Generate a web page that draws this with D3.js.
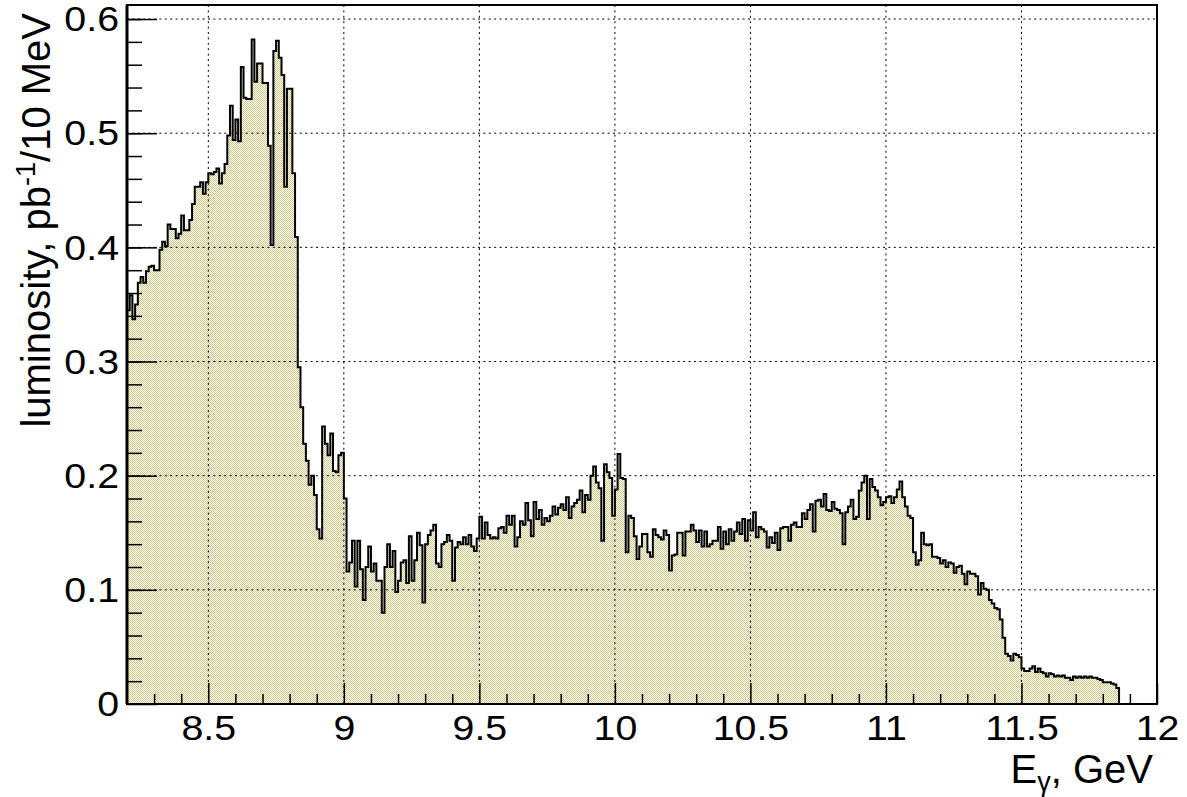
<!DOCTYPE html>
<html>
<head>
<meta charset="utf-8">
<script src="https://cdn.jsdelivr.net/npm/d3@7"></script>
<style>
  body { margin: 0; background: #fff; }
  svg text { font-family: "Liberation Sans", Arial, Helvetica, sans-serif; fill: #000; }
</style>
</head>
<body>
<div id="chart"></div>
<script>
// histogram binning (GeV)
const binStart = 8.2;
const binWidth = 0.01;

// luminosity per 10 MeV bin, pb^-1
const lumi8to9 = [
  0.345, 0.358, 0.337, 0.350, 0.369, 0.374, 0.369, 0.379, 0.383, 0.384,
  0.380, 0.380, 0.398, 0.405, 0.401, 0.420, 0.416, 0.416, 0.408, 0.412,
  0.428, 0.415, 0.415, 0.424, 0.438, 0.453, 0.453, 0.457, 0.447, 0.457,
  0.465, 0.464, 0.466, 0.469, 0.456, 0.465, 0.473, 0.498, 0.524, 0.494,
  0.512, 0.493, 0.558, 0.531, 0.530, 0.530, 0.582, 0.545, 0.561, 0.561,
  0.544, 0.544, 0.489, 0.402, 0.572, 0.581, 0.566, 0.551, 0.453, 0.539,
  0.539, 0.465, 0.409, 0.295, 0.260, 0.228, 0.213, 0.192, 0.200, 0.183,
  0.153, 0.145, 0.243, 0.228, 0.218, 0.237, 0.204, 0.203, 0.218, 0.220
];
const lumi9to10 = [
  0.180, 0.116, 0.124, 0.143, 0.103, 0.143, 0.118, 0.091, 0.120, 0.138,
  0.116, 0.123, 0.108, 0.108, 0.080, 0.120, 0.140, 0.120, 0.134, 0.098,
  0.108, 0.124, 0.126, 0.106, 0.147, 0.108, 0.126, 0.150, 0.139, 0.089,
  0.140, 0.148, 0.152, 0.157, 0.123, 0.120, 0.140, 0.142, 0.148, 0.143,
  0.108, 0.137, 0.142, 0.140, 0.146, 0.140, 0.148, 0.138, 0.134, 0.145,
  0.164, 0.145, 0.159, 0.148, 0.145, 0.146, 0.145, 0.154, 0.155, 0.150,
  0.165, 0.157, 0.165, 0.138, 0.146, 0.160, 0.157, 0.176, 0.161, 0.147,
  0.177, 0.162, 0.170, 0.157, 0.163, 0.160, 0.165, 0.173, 0.166, 0.172,
  0.175, 0.170, 0.181, 0.163, 0.173, 0.176, 0.179, 0.187, 0.168, 0.183,
  0.179, 0.200, 0.208, 0.194, 0.189, 0.143, 0.210, 0.203, 0.198, 0.165
];
const lumi10to11 = [
  0.188, 0.219, 0.198, 0.197, 0.133, 0.165, 0.163, 0.147, 0.127, 0.138,
  0.149, 0.149, 0.133, 0.129, 0.153, 0.148, 0.146, 0.144, 0.152, 0.148,
  0.117, 0.130, 0.131, 0.150, 0.150, 0.130, 0.151, 0.151, 0.157, 0.152,
  0.142, 0.152, 0.138, 0.151, 0.138, 0.140, 0.143, 0.143, 0.155, 0.136,
  0.151, 0.140, 0.153, 0.143, 0.151, 0.159, 0.149, 0.162, 0.143, 0.161,
  0.152, 0.168, 0.146, 0.155, 0.153, 0.151, 0.137, 0.146, 0.141, 0.150,
  0.135, 0.154, 0.155, 0.155, 0.143, 0.157, 0.159, 0.155, 0.155, 0.167,
  0.162, 0.170, 0.175, 0.151, 0.178, 0.179, 0.173, 0.184, 0.170, 0.169,
  0.177, 0.171, 0.170, 0.167, 0.140, 0.168, 0.173, 0.179, 0.162, 0.164,
  0.187, 0.194, 0.200, 0.162, 0.197, 0.190, 0.187, 0.181, 0.174, 0.177
];
const lumi11to12 = [
  0.181, 0.182, 0.176, 0.181, 0.188, 0.195, 0.181, 0.173, 0.165, 0.163,
  0.133, 0.122, 0.126, 0.150, 0.140, 0.139, 0.140, 0.129, 0.129, 0.128,
  0.123, 0.126, 0.120, 0.124, 0.123, 0.115, 0.120, 0.121, 0.114, 0.105,
  0.116, 0.114, 0.114, 0.112, 0.096, 0.106, 0.101, 0.100, 0.091, 0.088,
  0.084, 0.083, 0.074, 0.058, 0.044, 0.042, 0.038, 0.044, 0.043, 0.041,
  0.031, 0.029, 0.029, 0.031, 0.033, 0.028, 0.031, 0.028, 0.027, 0.024,
  0.027, 0.026, 0.024, 0.025, 0.024, 0.025, 0.023, 0.023, 0.021, 0.024,
  0.023, 0.024, 0.023, 0.024, 0.023, 0.024, 0.023, 0.023, 0.022, 0.021,
  0.019, 0.019, 0.019, 0.018, 0.017, 0.014
];

const xTicks = [8.5, 9, 9.5, 10, 10.5, 11, 11.5, 12];
const xTickLabels = ["8.5", "9", "9.5", "10", "10.5", "11", "11.5", "12"];
const yTicks = [0, 0.1, 0.2, 0.3, 0.4, 0.5, 0.6];
const yTickLabels = ["0", "0.1", "0.2", "0.3", "0.4", "0.5", "0.6"];

const lumi = [].concat(lumi8to9, lumi9to10, lumi10to11, lumi11to12);

const margin = { top: 5, right: 30, bottom: 93, left: 127 };
const width = 1187 - margin.left - margin.right;
const height = 797 - margin.top - margin.bottom;
const labelStretch = 1.14; // ROOT's Helvetica digits run wider than Arial

const svg = d3.select("#chart").append("svg")
    .attr("width", 1187)
    .attr("height", 797)
    .append("g")
    .attr("transform", `translate(${margin.left}, ${margin.top})`);

const x = d3.scaleLinear().domain([8.2, 12]).range([0, width]);
const y = d3.scaleLinear().domain([0, 0.6123]).range([height, 0]);

// ROOT-like dotted fill pattern
const defs = svg.append("defs");
const pat = defs.append("pattern")
    .attr("id", "dots")
    .attr("patternUnits", "userSpaceOnUse")
    .attr("width", 2).attr("height", 2);
pat.append("rect").attr("width", 2).attr("height", 2).attr("fill", "#fdfcf4");
pat.append("rect").attr("width", 1).attr("height", 1).attr("fill", "#cfc98b");
pat.append("rect").attr("x", 1).attr("y", 1).attr("width", 1).attr("height", 1).attr("fill", "#cfc98b");

defs.append("clipPath").attr("id", "frame")
    .append("rect").attr("width", width).attr("height", height);

// flatten bins into step points
const pts = lumi.map((v, i) => ({ e: binStart + i * binWidth, v: v }));
const lastEdge = binStart + lumi.length * binWidth;
pts.push({ e: lastEdge, v: lumi[lumi.length - 1] });

const plot = svg.append("g").attr("clip-path", "url(#frame)");

plot.append("path")
    .datum(pts)
    .attr("fill", "url(#dots)")
    .attr("d", d3.area().curve(d3.curveStepAfter)
        .x(d => x(d.e)).y0(y(0)).y1(d => y(d.v)));

// grid
const grid = svg.append("g")
    .attr("stroke", "#000")
    .attr("stroke-width", 1)
    .attr("stroke-dasharray", "2,3.4");
grid.selectAll(".gx")
    .data(xTicks.filter(d => d < 12))
    .enter().append("line")
    .attr("x1", d => x(d)).attr("x2", d => x(d))
    .attr("y1", 0).attr("y2", height);
grid.selectAll(".gy")
    .data(yTicks.filter(d => d > 0))
    .enter().append("line")
    .attr("x1", 0).attr("x2", width)
    .attr("y1", d => y(d)).attr("y2", d => y(d));

// histogram outline
const outline = pts.concat([{ e: lastEdge, v: 0 }]);
plot.append("path")
    .datum(outline)
    .attr("fill", "none")
    .attr("stroke", "#000")
    .attr("stroke-width", 2)
    .attr("d", d3.line().curve(d3.curveStepAfter)
        .x(d => x(d.e)).y(d => y(d.v)));

// axes
const xMinor = d3.range(83, 120).map(d => d / 10).filter(d => Math.abs(d * 2 - Math.round(d * 2)) > 1e-6);
const yMinor = d3.range(1, 31).map(d => d * 0.02);

const xAxis = svg.append("g").attr("transform", `translate(0, ${height})`);
xAxis.append("g").call(d3.axisBottom(x).tickValues(xMinor).tickSize(-10).tickFormat(""));
xAxis.append("g").call(d3.axisBottom(x).tickValues(xTicks).tickSize(-21).tickPadding(12)
    .tickFormat((d, i) => xTickLabels[i]));

const yAxis = svg.append("g");
yAxis.append("g").call(d3.axisLeft(y).tickValues(yMinor).tickSize(-15).tickFormat(""));
yAxis.append("g").call(d3.axisLeft(y).tickValues(yTicks).tickSize(-30).tickPadding(8)
    .tickFormat((d, i) => yTickLabels[i]));

svg.selectAll(".domain").remove();
svg.selectAll(".tick line").attr("stroke", "#000").attr("stroke-width", 1.5);
svg.selectAll(".tick text")
    .attr("font-family", null)
    .attr("transform", `scale(${labelStretch}, 1)`)
    .style("font-size", "34.5px");
yAxis.selectAll(".tick text")
    .attr("x", -8 / labelStretch)
    .attr("dy", "0.34em");

// frame
svg.append("rect")
    .attr("width", width).attr("height", height)
    .attr("fill", "none")
    .attr("stroke", "#000")
    .attr("stroke-width", 2);
svg.append("line")
    .attr("x1", 0).attr("x2", 0)
    .attr("y1", 0).attr("y2", height)
    .attr("stroke", "#000")
    .attr("stroke-width", 3);

// axis titles
const xt = svg.append("text")
    .attr("x", 1153 - margin.left)
    .attr("y", 783 - margin.top)
    .attr("text-anchor", "end")
    .style("font-size", "40px");
xt.append("tspan").text("E");
xt.append("tspan").attr("dy", 8).style("font-size", "27px").text("γ");
xt.append("tspan").attr("dy", -8).text(", GeV");

const yt = svg.append("text")
    .attr("transform", `translate(${50 - margin.left}, ${13 - margin.top}) rotate(-90)`)
    .attr("text-anchor", "end")
    .style("font-size", "40px");
yt.append("tspan").text("luminosity, pb");
yt.append("tspan").attr("dy", -15).style("font-size", "27px").text("-1");
yt.append("tspan").attr("dy", 15).text("/10 MeV");
</script>
</body>
</html>
